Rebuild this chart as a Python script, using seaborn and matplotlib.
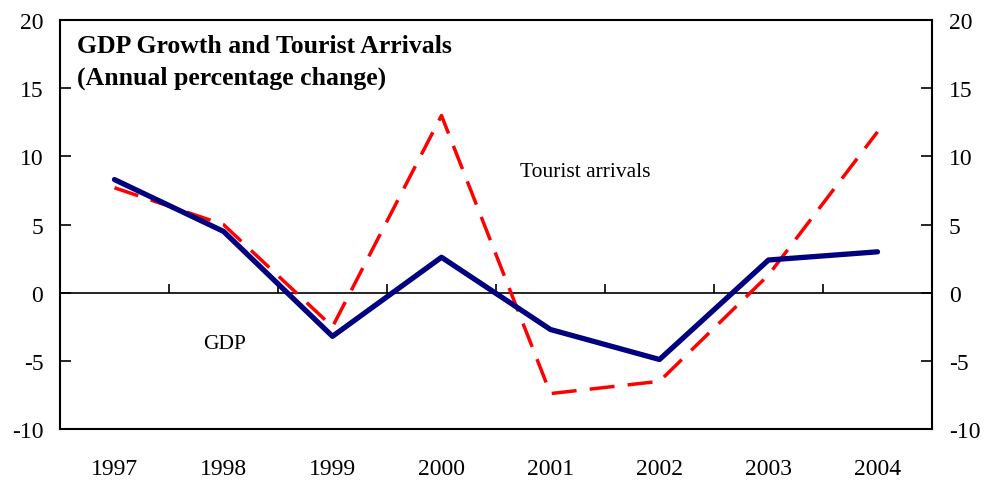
import matplotlib
matplotlib.use("Agg")
import matplotlib.pyplot as plt
import numpy as np
import pandas as pd
import seaborn as sns

years = ["1997", "1998", "1999", "2000", "2001", "2002", "2003", "2004"]
gdp = [8.3, 4.5, -3.2, 2.6, -2.7, -4.9, 2.4, 3.0]
tourist = [7.7, 5.0, -2.5, 13.0, -7.4, -6.5, 1.3, 11.8]
y_ticks = [-10, -5, 0, 5, 10, 15, 20]

sns.set_style("white")
plt.rcParams["font.family"] = ["Liberation Serif", "DejaVu Serif"]
plt.rcParams["text.color"] = "black"
plt.rcParams["xtick.color"] = "black"
plt.rcParams["ytick.color"] = "black"

df = pd.DataFrame({"pos": np.arange(len(years)), "gdp": gdp, "tourist": tourist})

fig = plt.figure(figsize=(9.9, 4.81), dpi=100)
ax = fig.add_axes([0.0606, 0.106, 0.8808, 0.8501])

sns.lineplot(data=df, x="pos", y="tourist", ax=ax, color="#ff0000",
             linewidth=2.5, zorder=3)
ax.lines[-1].set_dashes([7.2, 3.8])
sns.lineplot(data=df, x="pos", y="gdp", ax=ax, color="#000080",
             linewidth=3.8, zorder=4)

ax.set_xlim(-0.5, len(years) - 0.5)
ax.set_ylim(-10, 20)
ax.set_xticks(df["pos"])
ax.set_xticklabels(years)
ax.set_yticks(y_ticks)
ax.set_yticklabels([str(t) for t in y_ticks])
ax.set_xlabel("")
ax.set_ylabel("")
ax.tick_params(axis="x", length=0, labelsize=17, pad=21)
ax.tick_params(axis="y", direction="in", length=8, width=1.2, labelsize=17, pad=12)

# zero line with category boundary ticks
ax.axhline(0, color="black", linewidth=1.2, zorder=2)
bounds = np.arange(0.5, len(years) - 1, 1.0)
ax.vlines(bounds, 0, 0.65, color="black", linewidth=1.2, zorder=2)

for s in ax.spines.values():
    s.set_visible(True)
    s.set_color("black")
    s.set_linewidth(1.5)

ax2 = ax.twinx()
ax2.set_ylim(ax.get_ylim())
ax2.set_yticks(y_ticks)
ax2.set_yticklabels([str(t) for t in y_ticks])
ax2.tick_params(axis="y", direction="in", length=8, width=1.2, labelsize=17, pad=12)
for s in ax2.spines.values():
    s.set_visible(False)

ax.text(0.019, 0.966, "GDP Growth and Tourist Arrivals\n(Annual percentage change)",
        transform=ax.transAxes, ha="left", va="top", fontsize=18.5,
        fontweight="bold", linespacing=1.45)
ax.text(4.32, 8.9, "Tourist arrivals", ha="center", va="center", fontsize=15.5)
ax.text(1.01, -3.7, "GDP", ha="center", va="center", fontsize=15.5)

fig.savefig("out.png", dpi=100)
